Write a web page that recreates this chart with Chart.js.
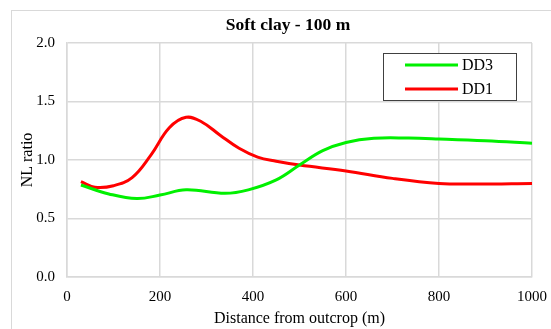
<!DOCTYPE html>
<html><head><meta charset="utf-8">
<script src="https://cdn.jsdelivr.net/npm/chart.js@4"></script>
<style>html,body{margin:0;padding:0;background:#fff;overflow:hidden}</style>
</head><body>
<canvas id="c" width="551" height="329"></canvas>
<script>
const chartTitle = "Soft clay - 100 m";
const xTitle = "Distance from outcrop (m)";
const yTitle = "NL ratio";
const seriesNames = ["DD3", "DD1"];
const xDD3 = [30, 90, 150, 200, 256, 340, 390, 450, 500, 550, 600, 660, 735, 800, 900, 1000];
const valDD3 = [0.786, 0.71, 0.67, 0.70, 0.745, 0.715, 0.745, 0.83, 0.957, 1.08, 1.15, 1.185, 1.187, 1.18, 1.165, 1.143];
const xDD1 = [30, 60, 100, 140, 180, 220, 256, 290, 330, 370, 410, 450, 500, 600, 700, 800, 880, 1000];
const valDD1 = [0.815, 0.767, 0.78, 0.85, 1.04, 1.275, 1.365, 1.325, 1.21, 1.10, 1.025, 0.99, 0.957, 0.906, 0.843, 0.80, 0.795, 0.80];

const FONT = "'Liberation Serif','Times New Roman',serif";
const toPts = (xs, ys) => xs.map((x, i) => ({x: x, y: ys[i]}));

const decor = {
  id: 'decor',
  beforeDraw(chart) {
    const ctx = chart.ctx;
    ctx.save();
    ctx.strokeStyle = '#d9d9d9';
    ctx.lineWidth = 1;
    ctx.strokeRect(11.5, 10.5, 600, 400);
    ctx.restore();
  },
  afterDraw(chart) {
    const ctx = chart.ctx;
    const ds = chart.data.datasets;
    ctx.save();
    ctx.fillStyle = '#fff';
    ctx.fillRect(383, 53, 134, 48);
    ctx.strokeStyle = '#404040';
    ctx.lineWidth = 1;
    ctx.strokeRect(383.5, 53.5, 133, 47);
    ctx.font = '16px ' + FONT;
    ctx.textBaseline = 'middle';
    ds.forEach((d, i) => {
      const y = 65 + i * 24;
      ctx.strokeStyle = d.borderColor;
      ctx.lineWidth = 3;
      ctx.beginPath();
      ctx.moveTo(405, y);
      ctx.lineTo(458, y);
      ctx.stroke();
      ctx.fillStyle = '#000';
      ctx.fillText(d.label, 462, y + 1);
    });
    ctx.restore();
  }
};

new Chart(document.getElementById('c'), {
  type: 'line',
  data: {
    datasets: [
      {label: seriesNames[0], data: toPts(xDD3, valDD3), borderColor: '#00f000', borderWidth: 3, pointRadius: 0, tension: 0.4, fill: false},
      {label: seriesNames[1], data: toPts(xDD1, valDD1), borderColor: '#ff0000', borderWidth: 3, pointRadius: 0, tension: 0.4, fill: false}
    ]
  },
  options: {
    responsive: false,
    animation: false,
    layout: {padding: {left: 25, right: 0, top: 0, bottom: 0}},
    plugins: {
      legend: {display: false},
      tooltip: {enabled: false},
      title: {display: true, text: chartTitle, color: '#000', font: {family: FONT, size: 17.5, weight: 'bold'}, padding: {top: 15, bottom: 7}}
    },
    scales: {
      x: {
        type: 'linear', min: 0, max: 1000,
        ticks: {stepSize: 200, color: '#000', font: {family: FONT, size: 15}, padding: 4, maxRotation: 0, callback: v => String(v)},
        grid: {color: '#d9d9d9', lineWidth: 1.5, drawTicks: true, tickLength: 7, tickColor: 'rgba(0,0,0,0)'},
        border: {color: '#d9d9d9', width: 1.5},
        title: {display: true, text: xTitle, color: '#000', font: {family: FONT, size: 16}, padding: {top: 0, bottom: 1}},
        afterFit(s) { s.height = 52; }
      },
      y: {
        min: 0, max: 2,
        ticks: {stepSize: 0.5, color: '#000', font: {family: FONT, size: 15}, padding: 12, callback: v => v.toFixed(1)},
        grid: {color: '#d9d9d9', lineWidth: 1.5, drawTicks: false},
        border: {color: '#d9d9d9', width: 1.5},
        title: {display: true, text: yTitle, color: '#000', font: {family: FONT, size: 16}, padding: {top: -7, bottom: 0}},
        afterFit(s) { s.width = 42; }
      }
    }
  },
  plugins: [decor]
});
</script>
</body></html>
